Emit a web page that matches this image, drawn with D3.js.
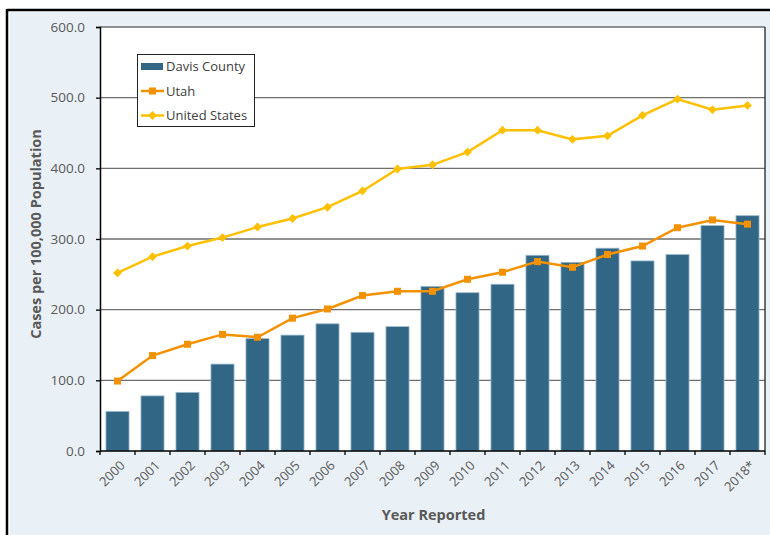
<!DOCTYPE html>
<html>
<head>
<meta charset="utf-8">
<script src="https://cdn.jsdelivr.net/npm/d3@7/dist/d3.min.js"></script>
<style>
  html, body { margin: 0; padding: 0; background: #fff; }
  svg { display: block; }
</style>
</head>
<body>
<svg id="chart" width="770" height="535"></svg>
<script>
// Reported cases per 100,000 population, 2000–2018
const years = ["2000","2001","2002","2003","2004","2005","2006","2007","2008","2009",
               "2010","2011","2012","2013","2014","2015","2016","2017","2018*"];
const davisCounty = [56, 78, 83, 123, 159, 164, 180, 168, 176, 233,
                     224, 236, 277, 267, 287, 269, 278, 319, 333];
const utah = [99, 135, 151, 165, 161, 188, 201, 220, 226, 226,
              243, 253, 268, 260, 278, 290, 316, 327, 321];
const unitedStates = [252, 275, 290, 302, 317, 329, 345, 368, 399, 405,
                      423, 454, 454, 441, 446, 475, 498, 483, 489];
const yTicks = [0, 100, 200, 300, 400, 500, 600];

const svg = d3.select("#chart");
const font = "'Open Sans', 'DejaVu Sans', sans-serif";

// Outer frame and panel
svg.append("rect").attr("x", 10).attr("y", 12).attr("width", 770).attr("height", 530)
  .attr("fill", "#e9f0f6");
svg.append("line").attr("x1", 7).attr("x2", 770).attr("y1", 10).attr("y2", 10)
  .attr("stroke", "#000").attr("stroke-width", 2.5);
svg.append("line").attr("x1", 7).attr("x2", 7).attr("y1", 9).attr("y2", 535)
  .attr("stroke", "#000").attr("stroke-width", 2.5);

const m = { left: 100, right: 765, top: 27, bottom: 451 };

const x = d3.scaleBand().domain(years).range([m.left, m.right]).paddingInner(0.34).paddingOuter(0.17);
const y = d3.scaleLinear().domain([0, 600]).range([m.bottom, m.top]);

// Plot area
svg.append("rect").attr("x", m.left).attr("y", m.top)
  .attr("width", m.right - m.left).attr("height", m.bottom - m.top).attr("fill", "#fff");

// Gridlines
svg.append("g").selectAll("line").data(yTicks.filter(d => d > 0)).join("line")
  .attr("x1", m.left).attr("x2", m.right)
  .attr("y1", d => y(d)).attr("y2", d => y(d))
  .attr("stroke", "#6e6e6e").attr("stroke-width", 1.3);

// Right border of plot area
svg.append("line").attr("x1", m.right).attr("x2", m.right).attr("y1", m.top).attr("y2", m.bottom)
  .attr("stroke", "#222").attr("stroke-width", 1.3);

// Bars
svg.append("g").selectAll("rect").data(davisCounty).join("rect")
  .attr("x", (d, i) => x(years[i]))
  .attr("y", d => y(d))
  .attr("width", x.bandwidth())
  .attr("height", d => y(0) - y(d))
  .attr("fill", "#326685")
  .attr("stroke", "#9fbcd0").attr("stroke-width", 0.8);

// Axes
const yAxis = d3.axisLeft(y).tickValues(yTicks).tickFormat(d3.format(".1f")).tickSize(4).tickPadding(11);
const gy = svg.append("g").attr("transform", `translate(${m.left},0)`).call(yAxis);
gy.select(".domain").attr("stroke", "#000").attr("stroke-width", 1.5);
gy.selectAll(".tick line").attr("stroke", "#000").attr("stroke-width", 1.3);
gy.selectAll("text").attr("font-family", font).attr("font-size", 13.5).attr("fill", "#595959");

const xTickPos = d3.range(years.length + 1).map(i => m.left + i * x.step());
const gx = svg.append("g");
gx.append("line").attr("x1", m.left).attr("x2", m.right).attr("y1", m.bottom).attr("y2", m.bottom)
  .attr("stroke", "#000").attr("stroke-width", 1.5);
gx.selectAll("line.tk").data(xTickPos).join("line").attr("class", "tk")
  .attr("x1", d => d).attr("x2", d => d).attr("y1", m.bottom).attr("y2", m.bottom + 4)
  .attr("stroke", "#000").attr("stroke-width", 1.3);
gx.selectAll("text").data(years).join("text")
  .attr("transform", d => `translate(${x(d) + x.bandwidth() / 2 + 5},${m.bottom + 12}) rotate(-45)`)
  .attr("text-anchor", "end")
  .attr("dy", "0.35em")
  .attr("font-family", font).attr("font-size", 13).attr("fill", "#595959")
  .text(d => d);

// Lines
const cx = i => x(years[i]) + x.bandwidth() / 2;
const lineGen = d3.line().x((d, i) => cx(i)).y(d => y(d));

svg.append("path").datum(unitedStates).attr("d", lineGen)
  .attr("fill", "none").attr("stroke", "#ffc000").attr("stroke-width", 2.5);
svg.append("g").selectAll("path").data(unitedStates).join("path")
  .attr("d", d3.symbol(d3.symbolDiamond2, 50))
  .attr("transform", (d, i) => `translate(${cx(i)},${y(d)})`)
  .attr("fill", "#ffc000");

svg.append("path").datum(utah).attr("d", lineGen)
  .attr("fill", "none").attr("stroke", "#f39200").attr("stroke-width", 2.5);
svg.append("g").selectAll("rect").data(utah).join("rect")
  .attr("x", (d, i) => cx(i) - 3.5).attr("y", d => y(d) - 3.5)
  .attr("width", 7).attr("height", 7)
  .attr("fill", "#f39200");

// Axis titles
svg.append("text")
  .attr("transform", `translate(41,${(m.top + m.bottom) / 2 - 5}) rotate(-90)`)
  .attr("text-anchor", "middle")
  .attr("font-family", font).attr("font-size", 14.5).attr("font-weight", "bold").attr("fill", "#595959")
  .text("Cases per 100,000 Population");
svg.append("text")
  .attr("x", (m.left + m.right) / 2 + 1).attr("y", 520)
  .attr("text-anchor", "middle")
  .attr("font-family", font).attr("font-size", 14.5).attr("font-weight", "bold").attr("fill", "#595959")
  .text("Year Reported");

// Legend
const lg = svg.append("g");
lg.append("rect").attr("x", 137.5).attr("y", 54.5).attr("width", 117).attr("height", 72)
  .attr("fill", "#fff").attr("stroke", "#222").attr("stroke-width", 1);
const items = [
  { name: "Davis County", type: "bar", color: "#326685" },
  { name: "Utah", type: "square", color: "#f39200" },
  { name: "United States", type: "diamond", color: "#ffc000" }
];
items.forEach((it, i) => {
  const cy = 66.5 + i * 24.5;
  if (it.type === "bar") {
    lg.append("rect").attr("x", 141).attr("y", cy - 3.5).attr("width", 22).attr("height", 7).attr("fill", it.color);
  } else {
    lg.append("line").attr("x1", 141).attr("x2", 164).attr("y1", cy).attr("y2", cy)
      .attr("stroke", it.color).attr("stroke-width", 2.5);
    if (it.type === "square") {
      lg.append("rect").attr("x", 152.5 - 3.5).attr("y", cy - 3.5).attr("width", 7).attr("height", 7).attr("fill", it.color);
    } else {
      lg.append("path").attr("d", d3.symbol(d3.symbolDiamond2, 50)).attr("transform", `translate(152.5,${cy})`).attr("fill", it.color);
    }
  }
  lg.append("text").attr("x", 166).attr("y", cy).attr("dy", "0.35em")
    .attr("font-family", font).attr("font-size", 13).attr("fill", "#404040")
    .text(it.name);
});
</script>
</body>
</html>
